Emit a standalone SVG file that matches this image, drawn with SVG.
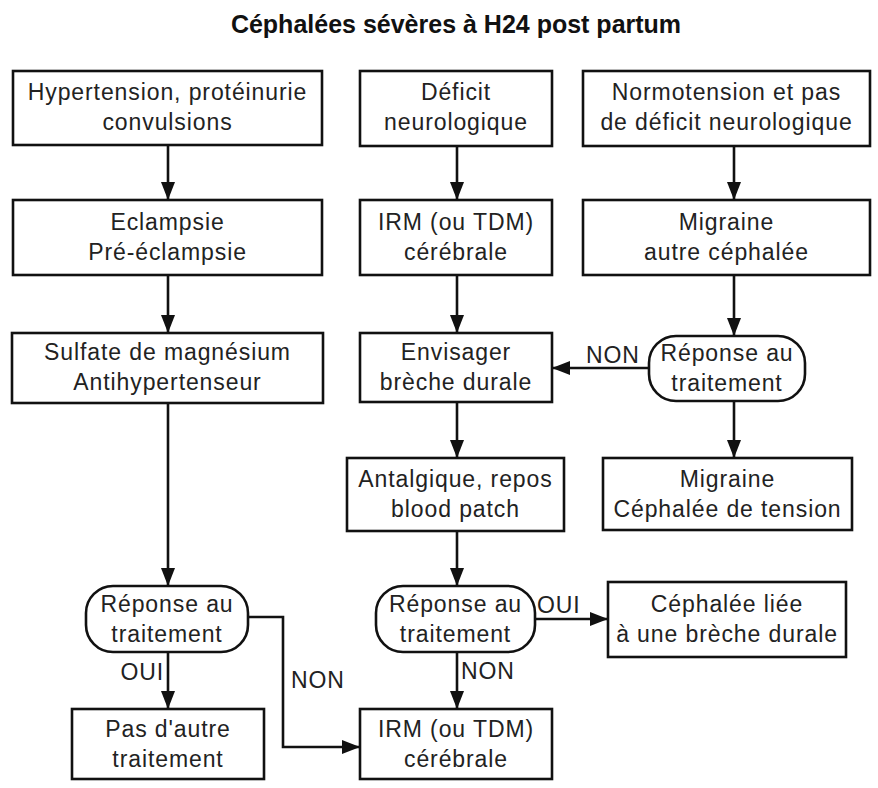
<svg xmlns="http://www.w3.org/2000/svg" width="878" height="788" viewBox="0 0 878 788">
<style>
.bx{fill:#fff;stroke:#111;stroke-width:2.6}
.t{font-family:"Liberation Sans",Arial,sans-serif;font-size:23px;fill:#222;text-anchor:middle;letter-spacing:0.9px}
.lb{font-family:"Liberation Sans",Arial,sans-serif;font-size:23px;fill:#222;letter-spacing:0.9px}
.ttl{font-family:"Liberation Sans",Arial,sans-serif;font-size:25px;font-weight:bold;fill:#111;text-anchor:middle}
.c{fill:none;stroke:#111;stroke-width:2.6;marker-end:url(#ah)}
</style>
<defs>
<marker id="ah" markerUnits="userSpaceOnUse" markerWidth="18" markerHeight="14" refX="18" refY="7" orient="auto">
<path d="M0,0 L18,7 L0,14 z" fill="#111"/>
</marker>
</defs>
<rect width="878" height="788" fill="#fff"/>
<text class="ttl" x="456" y="33">Céphalées sévères à H24 post partum</text>

<g id="n-hyper"><rect class="bx" x="13" y="71" width="309" height="74"/><text class="t" x="167.5" y="100">Hypertension, protéinurie</text><text class="t" x="167.5" y="130">convulsions</text></g>
<g id="n-deficit"><rect class="bx" x="360" y="71" width="192" height="75"/><text class="t" x="456" y="100">Déficit</text><text class="t" x="456" y="130">neurologique</text></g>
<g id="n-normo"><rect class="bx" x="583" y="71" width="287" height="75"/><text class="t" x="726.5" y="100">Normotension et pas</text><text class="t" x="726.5" y="130">de déficit neurologique</text></g>

<g id="n-eclampsie"><rect class="bx" x="13" y="200" width="309" height="75"/><text class="t" x="167.5" y="230">Eclampsie</text><text class="t" x="167.5" y="260">Pré-éclampsie</text></g>
<g id="n-irm1"><rect class="bx" x="360" y="200" width="192" height="75"/><text class="t" x="456" y="230">IRM (ou TDM)</text><text class="t" x="456" y="260">cérébrale</text></g>
<g id="n-migraine1"><rect class="bx" x="583" y="200" width="287" height="75"/><text class="t" x="726.5" y="230">Migraine</text><text class="t" x="726.5" y="260">autre céphalée</text></g>

<g id="n-sulfate"><rect class="bx" x="12" y="333" width="311" height="70"/><text class="t" x="167.5" y="360">Sulfate de magnésium</text><text class="t" x="167.5" y="390">Antihypertenseur</text></g>
<g id="n-envisager"><rect class="bx" x="360" y="333" width="192" height="69"/><text class="t" x="456" y="360">Envisager</text><text class="t" x="456" y="390">brèche durale</text></g>
<g id="n-rep1"><rect class="bx" x="649" y="336" width="156" height="65" rx="27" ry="27"/><text class="t" x="727" y="361">Réponse au</text><text class="t" x="727" y="391">traitement</text></g>

<g id="n-antalgique"><rect class="bx" x="347" y="458" width="217" height="73"/><text class="t" x="455.5" y="487">Antalgique, repos</text><text class="t" x="455.5" y="517">blood patch</text></g>
<g id="n-migraine2"><rect class="bx" x="603" y="458" width="249" height="72"/><text class="t" x="727.5" y="487">Migraine</text><text class="t" x="727.5" y="517">Céphalée de tension</text></g>

<g id="n-rep2"><rect class="bx" x="86" y="586" width="162" height="66" rx="27" ry="27"/><text class="t" x="167" y="612">Réponse au</text><text class="t" x="167" y="642">traitement</text></g>
<g id="n-rep3"><rect class="bx" x="376" y="586" width="159" height="66" rx="27" ry="27"/><text class="t" x="455.5" y="612">Réponse au</text><text class="t" x="455.5" y="642">traitement</text></g>
<g id="n-liee"><rect class="bx" x="608" y="582" width="238" height="75"/><text class="t" x="727" y="612">Céphalée liée</text><text class="t" x="727" y="642">à une brèche durale</text></g>

<g id="n-pasautre"><rect class="bx" x="72" y="709" width="192" height="70"/><text class="t" x="168" y="737">Pas d'autre</text><text class="t" x="168" y="767">traitement</text></g>
<g id="n-irm2"><rect class="bx" x="360" y="709" width="192" height="70"/><text class="t" x="456" y="737">IRM (ou TDM)</text><text class="t" x="456" y="767">cérébrale</text></g>

<g id="connectors">
<path class="c" d="M168,145 V200"/>
<path class="c" d="M457,146 V200"/>
<path class="c" d="M734,146 V200"/>
<path class="c" d="M168,275 V333"/>
<path class="c" d="M457,275 V333"/>
<path class="c" d="M734,275 V336"/>
<path class="c" d="M649,368 H552"/>
<path class="c" d="M457,402 V458"/>
<path class="c" d="M734,401 V458"/>
<path class="c" d="M168,403 V586"/>
<path class="c" d="M457,531 V586"/>
<path class="c" d="M535,619 H608"/>
<path class="c" d="M168,652 V709"/>
<path class="c" d="M457,652 V709"/>
<path class="c" d="M248,617 H283 V747 H360"/>
<text class="lb" x="586" y="363">NON</text>
<text class="lb" x="537" y="613">OUI</text>
<text class="lb" x="461" y="679">NON</text>
<text class="lb" x="164" y="680" text-anchor="end">OUI</text>
<text class="lb" x="291" y="688">NON</text>
</g>
</svg>
